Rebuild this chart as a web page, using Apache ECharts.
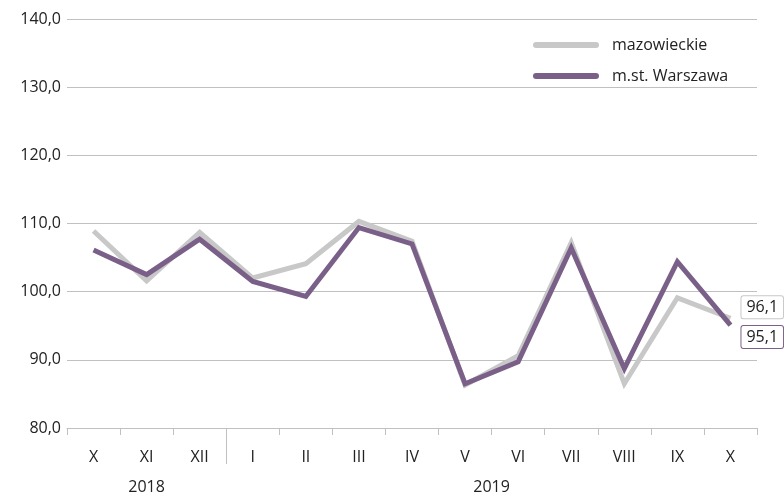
<!DOCTYPE html>
<html><head><meta charset="utf-8">
<script src="https://cdn.jsdelivr.net/npm/echarts@6/dist/echarts.min.js"></script>
<style>html,body{margin:0;padding:0;background:#fff}#c{width:784px;height:496px}</style>
</head><body><div id="c"></div>
<script>
const months = ["X","XI","XII","I","II","III","IV","V","VI","VII","VIII","IX","X"];
const years = ["2018","2019"];
const yearCounts = [3, 10];
const mazowieckie = [108.9,101.6,108.7,102.0,104.1,110.3,107.4,86.3,90.6,107.2,86.5,99.1,96.1];
const warszawa = [106.1,102.5,107.7,101.5,99.3,109.4,107.0,86.5,89.7,106.4,88.7,104.4,95.1];
const seriesNames = ["mazowieckie","m.st. Warszawa"];
const colors = ["#c8c8c8","#7a6088"];

const font = "Open Sans";
const yearCenters = [], yearBounds = [];
let acc = 0;
yearCounts.forEach((n,i)=>{ yearCenters.push(acc + n/2); acc += n; if(i < yearCounts.length-1) yearBounds.push(acc); });

const fmt = v => v.toFixed(1).replace('.', ',');
const chart = echarts.init(document.getElementById('c'));
function mk(name, data, color, off){
  return {
    name, type:'line', data, symbol:'none', xAxisIndex:0,
    lineStyle:{width:5, color, join:'miter'}, itemStyle:{color},
    endLabel:{show:true, formatter:p=>fmt(p.value), offset:[3,off],
      fontFamily:font, fontSize:16, color:'#222', backgroundColor:'#fff',
      borderColor:color, borderWidth:1, borderRadius:2, padding:[4,5,2,5]}
  };
}
chart.setOption({
  animation:false,
  textStyle:{fontFamily:font},
  grid:{left:67, right:27, top:19, bottom:68},
  legend:{orient:'vertical', left:528, top:32, itemWidth:66, itemHeight:6, itemGap:15,
    icon:'path://M3,0 L63,0 A3,3 0 0 1 63,6 L3,6 A3,3 0 0 1 3,0 Z',
    textStyle:{fontFamily:font, fontSize:16, color:'#222', padding:[0,0,0,8]},
    data:seriesNames},
  xAxis:[{
    type:'category', data:months, boundaryGap:true,
    axisLine:{lineStyle:{color:'#c0c0c0', width:1}},
    axisTick:{show:true, length:7, lineStyle:{color:'#c0c0c0'}},
    axisLabel:{fontFamily:font, fontSize:16, color:'#222', margin:21}
  },{
    type:'value', min:0, max:months.length, position:'bottom',
    axisLine:{show:false}, splitLine:{show:false},
    axisTick:{show:true, customValues:yearBounds, length:36, lineStyle:{color:'#c0c0c0'}},
    axisLabel:{customValues:yearCenters, fontFamily:font, fontSize:16, color:'#222', margin:51,
      formatter:v=>{const i=yearCenters.indexOf(v); return i>=0?years[i]:'';}}
  }],
  yAxis:{type:'value', min:80, max:140, interval:10,
    axisLine:{show:false}, axisTick:{show:false},
    splitLine:{lineStyle:{color:'#c0c0c0', width:1}},
    axisLabel:{fontFamily:font, fontSize:16, color:'#222', margin:6, formatter:v=>fmt(v)}},
  series:[mk(seriesNames[0], mazowieckie, colors[0], -11), mk(seriesNames[1], warszawa, colors[1], 12)]
});
</script></body></html>
